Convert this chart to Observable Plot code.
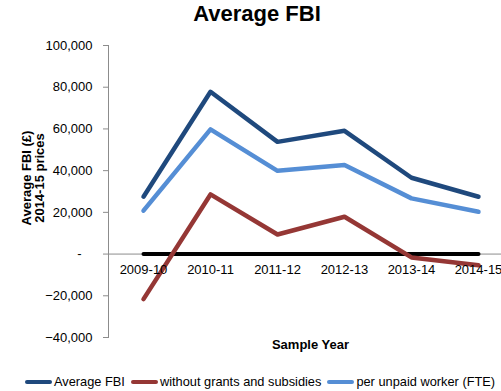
<!DOCTYPE html>
<html>
<head>
<meta charset="utf-8">
<script src="https://cdn.jsdelivr.net/npm/d3@7"></script>
<script src="https://cdn.jsdelivr.net/npm/@observablehq/plot@0.6"></script>
<style>
  body { margin: 0; background: #fff; font-family: "Liberation Sans", Arial, sans-serif; }
  #wrap { position: relative; width: 501px; height: 391px; overflow: hidden; }
  #chart { position: absolute; left: 0; top: 0; }
  #title { position: absolute; left: 0; top: 1px; width: 514px; text-align: center; font-weight: bold; font-size: 22px; }
  #ylabel { position: absolute; left: 33px; top: 178px; transform: translate(-50%, -50%) rotate(-90deg); text-align: center; font-weight: bold; font-size: 13px; line-height: 12.5px; white-space: nowrap; }
  #legend { position: absolute; left: 25px; top: 374px; display: flex; align-items: center; font-size: 12.8px; white-space: nowrap; }
  .item { display: flex; align-items: center; margin-right: 6px; }
  .sw { width: 27px; height: 4px; border-radius: 2px; margin-right: 2px; }
</style>
</head>
<body>
<div id="wrap">
  <div id="chart"></div>
  <div id="title">Average FBI</div>
  <div id="ylabel">Average FBI (£)<br>2014-15 prices</div>
  <div id="legend"></div>
</div>
<script>
const years = ["2009-10", "2010-11", "2011-12", "2012-13", "2013-14", "2014-15"];
const seriesNames = ["Average FBI", "without grants and subsidies", "per unpaid worker (FTE)"];
const averageFBI = [27500, 77800, 53800, 59100, 36600, 27500];
const withoutGrants = [-21600, 28600, 9400, 17900, -1600, -5400];
const perUnpaidWorker = [20800, 59800, 39900, 42700, 26700, 20300];
const yTicks = [-40000, -20000, 0, 20000, 40000, 60000, 80000, 100000];
const colors = ["#1F497D", "#953735", "#558ED5"];

const allSeries = [averageFBI, withoutGrants, perUnpaidWorker];
const rows = [];
allSeries.forEach((vals, s) => vals.forEach((v, i) => rows.push({year: years[i], value: v, series: seriesNames[s]})));

const fmt = d => d === 0 ? "-\u00a0\u00a0\u00a0" : d3.format(",")(d);

const chart = Plot.plot({
  width: 501,
  height: 391,
  marginTop: 45,
  marginBottom: 54,
  marginLeft: 108,
  marginRight: -11,
  style: {fontFamily: "Liberation Sans, Arial, sans-serif", background: "white"},
  x: {type: "point", domain: years, padding: 0.5, axis: null},
  y: {domain: [-40000, 100000], axis: null},
  color: {domain: seriesNames, range: colors},
  marks: [
    Plot.frame({anchor: "left", stroke: "#8c8c8c"}),
    Plot.axisY({ticks: yTicks, tickFormat: fmt, tickSize: 5, tickPadding: 11, stroke: "#8c8c8c", fill: "black", fontSize: 13, label: null}),
    Plot.ruleY([0], {stroke: "#8c8c8c"}),
    Plot.line(years, {x: d => d, y: () => 0, stroke: "black", strokeWidth: 4, strokeLinecap: "round"}),
    Plot.line(rows, {x: "year", y: "value", z: "series", stroke: "series", strokeWidth: 4.5, strokeLinejoin: "round", strokeLinecap: "round"}),
    Plot.text(years, {x: d => d, y: () => 0, dy: 16, fontSize: 13, fill: "black"}),
    Plot.text(["Sample Year"], {frameAnchor: "bottom", dy: 11, fontSize: 13, fontWeight: "bold", fill: "black"})
  ]
});
document.getElementById("chart").appendChild(chart);

const legend = document.getElementById("legend");
seriesNames.forEach((name, i) => {
  const it = document.createElement("div");
  it.className = "item";
  const sw = document.createElement("div");
  sw.className = "sw";
  sw.style.background = colors[i];
  const t = document.createElement("span");
  t.textContent = name;
  it.appendChild(sw);
  it.appendChild(t);
  legend.appendChild(it);
});
</script>
</body>
</html>
